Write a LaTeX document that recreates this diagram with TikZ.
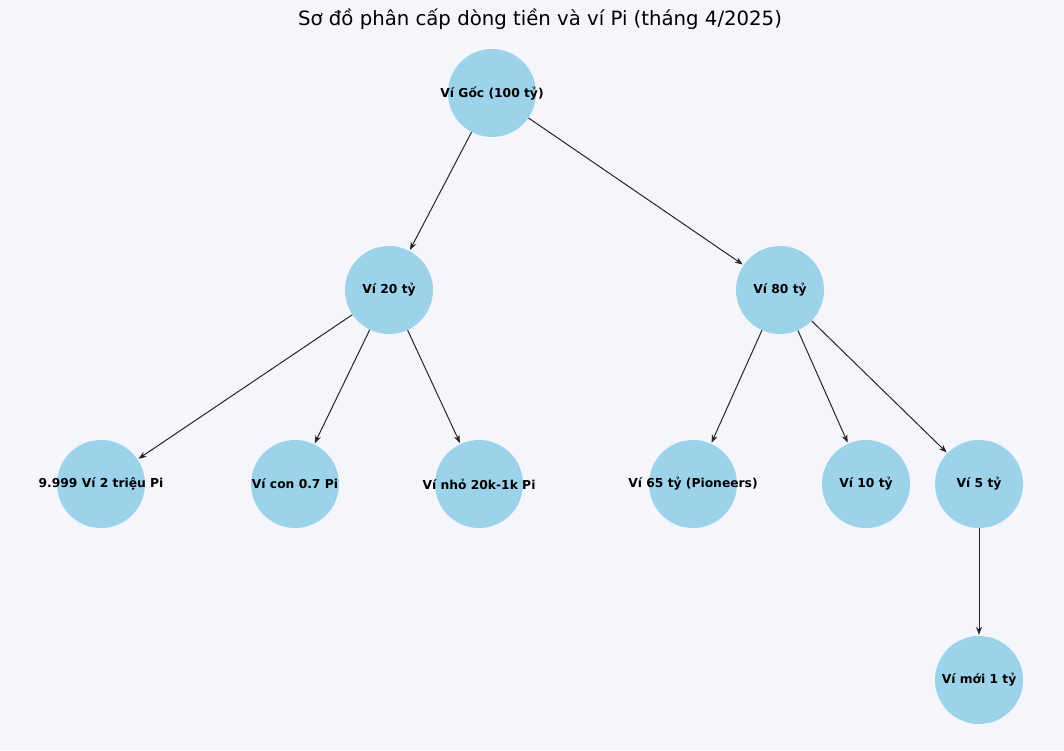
\documentclass[tikz,border=0pt]{standalone}
\usepackage{fontspec}
\setmainfont{DejaVu Sans}
\usetikzlibrary{arrows.meta}
\definecolor{bg}{HTML}{F4F6FB}
\definecolor{nodeblue}{HTML}{9DD3EA}
\begin{document}
\begin{tikzpicture}[x=1pt,y=-1pt,
  wallet/.style={circle,fill=nodeblue,minimum size=88pt,inner sep=0pt,
    label={[font=\bfseries\fontsize{12.3}{14}\selectfont]center:#1}},
  link/.style={-{Stealth[length=8pt,width=6pt]},draw=black!85,line width=1pt,shorten >=1pt}]
\fill[bg] (0,0) rectangle (1064,750);
\useasboundingbox (0,0) rectangle (1064,750);
\node (title) at (540,19) {\fontsize{19.7}{22}\selectfont Sơ đồ phân cấp dòng tiền và ví Pi (tháng 4/2025)};
\node[wallet={Ví Gốc (100 tỷ)}] (root) at (492,93) {};
\node[wallet={Ví 20 tỷ}] (a) at (389,290) {};
\node[wallet={Ví 80 tỷ}] (b) at (780,290) {};
\node[wallet={9.999 Ví 2 triệu Pi}] (a1) at (101,484) {};
\node[wallet={Ví con 0.7 Pi}] (a2) at (295,484) {};
\node[wallet={Ví nhỏ 20k-1k Pi}] (a3) at (479,484) {};
\node[wallet={Ví 65 tỷ (Pioneers)}] (b1) at (693,484) {};
\node[wallet={Ví 10 tỷ}] (b2) at (866,484) {};
\node[wallet={Ví 5 tỷ}] (b3) at (979,484) {};
\node[wallet={Ví mới 1 tỷ}] (c) at (979,680) {};
\draw[link] (root) -- (a);
\draw[link] (root) -- (b);
\draw[link] (a) -- (a1);
\draw[link] (a) -- (a2);
\draw[link] (a) -- (a3);
\draw[link] (b) -- (b1);
\draw[link] (b) -- (b2);
\draw[link] (b) -- (b3);
\draw[link] (b3) -- (c);
\end{tikzpicture}
\end{document}
